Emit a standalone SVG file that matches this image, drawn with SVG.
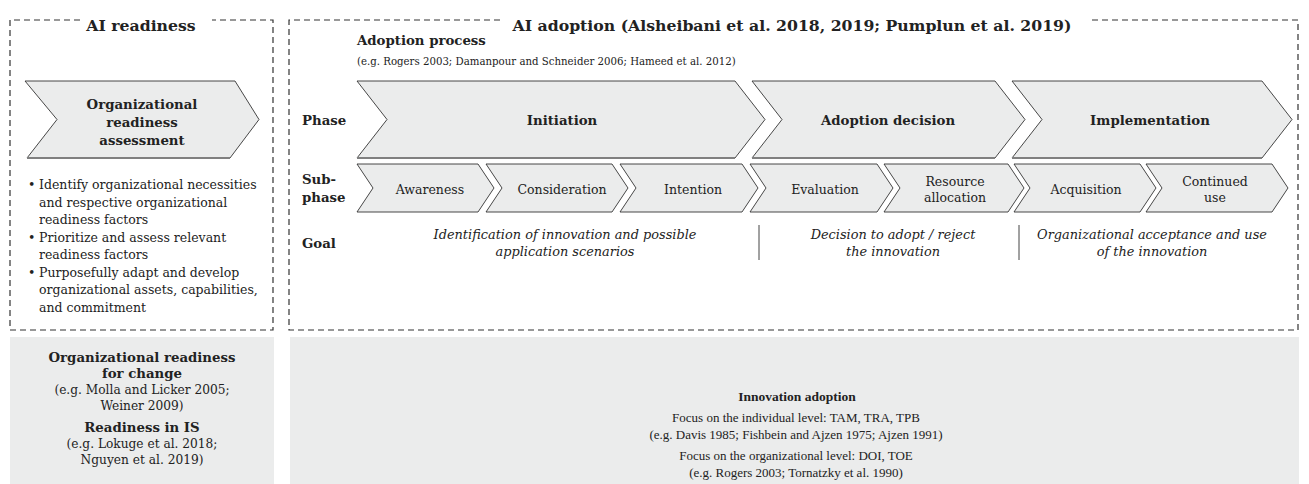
<svg xmlns="http://www.w3.org/2000/svg" width="1309" height="484" viewBox="0 0 1309 484">
<style>
  text { font-family: "DejaVu Serif", "Liberation Serif", serif; fill: #222; }
  .title { font-size: 15.7px; font-weight: bold; }
  .b13 { font-size: 13.3px; font-weight: bold; }
  .r13 { font-size: 12.5px; }
  .r12 { font-size: 12.2px; }
  .i13 { font-size: 12.9px; font-style: italic; }
  .small { font-size: 10.2px; }
  .bl { font-family: "Liberation Serif", serif; font-size: 13px; }
  .blb { font-family: "Liberation Serif", serif; font-size: 13.5px; font-weight: bold; }
  .c { text-anchor: middle; }
  .dash { fill: none; stroke: #333; stroke-width: 1.2; stroke-dasharray: 6 4; }
  .chev { fill: #ebecec; stroke: #333; stroke-width: 0.9; stroke-linejoin: miter; }
  .shadow { fill: none; stroke: #808080; stroke-width: 2; }
  .grey { fill: #ebecec; }
  .div { stroke: #444; stroke-width: 1; }
</style>

<!-- frames -->
<g id="frames">
  <path class="dash" d="M80,20 H10 V330 H273 V20 H212"/>
  <path class="dash" d="M500,20 H289 V330 H1298 V20 H1092"/>
  <rect class="grey" x="10" y="337" width="264" height="147"/>
  <rect class="grey" x="290" y="337" width="1009" height="147"/>
</g>

<g id="titles">
  <text class="title c" x="141" y="31">AI readiness</text>
  <text class="title c" x="792" y="31">AI adoption (Alsheibani et al. 2018, 2019; Pumplun et al. 2019)</text>
</g>

<!-- AI readiness node -->
<g id="node-readiness-assessment">
  <polygon class="chev" points="25,81 235,81 259,119.5 230,158 27,158 57,119.5"/>
  <line class="shadow" x1="27" y1="158" x2="230" y2="158"/>
  <text class="b13 c" x="142" y="109">Organizational</text>
  <text class="b13 c" x="142" y="127">readiness</text>
  <text class="b13 c" x="142" y="145">assessment</text>
</g>

<g id="readiness-bullets">
  <text class="r13" x="28" y="189">•</text>
  <text class="r13" x="39" y="189">Identify organizational necessities</text>
  <text class="r13" x="39" y="206.5">and respective organizational</text>
  <text class="r13" x="39" y="224">readiness factors</text>
  <text class="r13" x="28" y="241.5">•</text>
  <text class="r13" x="39" y="241.5">Prioritize and assess relevant</text>
  <text class="r13" x="39" y="259">readiness factors</text>
  <text class="r13" x="28" y="276.5">•</text>
  <text class="r13" x="39" y="276.5">Purposefully adapt and develop</text>
  <text class="r13" x="39" y="294">organizational assets, capabilities,</text>
  <text class="r13" x="39" y="311.5">and commitment</text>
</g>

<!-- Adoption process header -->
<g id="adoption-process">
  <text class="b13" x="357" y="45">Adoption process</text>
  <text class="small" x="357" y="65">(e.g. Rogers 2003; Damanpour and Schneider 2006; Hameed et al. 2012)</text>
</g>

<g id="row-labels">
  <text class="b13" x="302" y="125">Phase</text>
  <text class="b13" x="302" y="184">Sub-</text>
  <text class="b13" x="302" y="202">phase</text>
  <text class="b13" x="302" y="248">Goal</text>
</g>

<!-- Phases -->
<g id="phase-initiation">
  <polygon class="chev" points="357,81 735,81 765,119.5 735,158 357,158 387,119.5"/>
  <line class="shadow" x1="357" y1="158" x2="735" y2="158"/>
  <text class="b13 c" x="562" y="125">Initiation</text>
</g>
<g id="phase-adoption-decision">
  <polygon class="chev" points="752,81 995,81 1025,119.5 995,158 752,158 782,119.5"/>
  <line class="shadow" x1="752" y1="158" x2="995" y2="158"/>
  <text class="b13 c" x="888" y="125">Adoption decision</text>
</g>
<g id="phase-implementation">
  <polygon class="chev" points="1012,81 1262,81 1292,119.5 1262,158 1012,158 1042,119.5"/>
  <line class="shadow" x1="1012" y1="158" x2="1262" y2="158"/>
  <text class="b13 c" x="1150" y="125">Implementation</text>
</g>

<!-- Sub-phases -->
<g id="sub-awareness">
  <polygon class="chev" points="357,164 478,164 494,188 478,212 357,212 373,188"/>
  <text class="r13 c" x="430" y="194">Awareness</text>
</g>
<g id="sub-consideration">
  <polygon class="chev" points="486,164 612,164 628,188 612,212 486,212 502,188"/>
  <text class="r13 c" x="562" y="194">Consideration</text>
</g>
<g id="sub-intention">
  <polygon class="chev" points="620,164 742,164 758,188 742,212 620,212 636,188"/>
  <text class="r13 c" x="693" y="194">Intention</text>
</g>
<g id="sub-evaluation">
  <polygon class="chev" points="750,164 877,164 893,188 877,212 750,212 766,188"/>
  <text class="r13 c" x="825" y="194">Evaluation</text>
</g>
<g id="sub-resource-allocation">
  <polygon class="chev" points="884,164 1008,164 1024,188 1008,212 884,212 900,188"/>
  <text class="r13 c" x="955" y="186">Resource</text>
  <text class="r13 c" x="955" y="202">allocation</text>
</g>
<g id="sub-acquisition">
  <polygon class="chev" points="1014,164 1140,164 1156,188 1140,212 1014,212 1030,188"/>
  <text class="r13 c" x="1086" y="194">Acquisition</text>
</g>
<g id="sub-continued-use">
  <polygon class="chev" points="1146,164 1272,164 1288,188 1272,212 1146,212 1162,188"/>
  <text class="r13 c" x="1215" y="186">Continued</text>
  <text class="r13 c" x="1215" y="202">use</text>
</g>

<!-- Goals -->
<g id="goals">
  <text class="i13 c" x="565" y="239">Identification of innovation and possible</text>
  <text class="i13 c" x="565" y="256">application scenarios</text>
  <line class="div" x1="759" y1="225" x2="759" y2="260"/>
  <text class="i13 c" x="893" y="239">Decision to adopt / reject</text>
  <text class="i13 c" x="893" y="256">the innovation</text>
  <line class="div" x1="1019" y1="225" x2="1019" y2="260"/>
  <text class="i13 c" x="1152" y="239">Organizational acceptance and use</text>
  <text class="i13 c" x="1152" y="256">of the innovation</text>
</g>

<!-- Bottom left -->
<g id="readiness-literature">
  <text class="b13 c" x="142" y="362">Organizational readiness</text>
  <text class="b13 c" x="142" y="378">for change</text>
  <text class="r12 c" x="142" y="394">(e.g. Molla and Licker 2005;</text>
  <text class="r12 c" x="142" y="410">Weiner 2009)</text>
  <text class="b13 c" x="142" y="432">Readiness in IS</text>
  <text class="r12 c" x="142" y="448">(e.g. Lokuge et al. 2018;</text>
  <text class="r12 c" x="142" y="464">Nguyen et al. 2019)</text>
</g>

<!-- Bottom right -->
<g id="adoption-literature">
  <text class="blb c" x="797" y="401">Innovation adoption</text>
  <text class="bl c" x="796" y="422">Focus on the individual level: TAM, TRA, TPB</text>
  <text class="bl c" x="796" y="439">(e.g. Davis 1985; Fishbein and Ajzen 1975; Ajzen 1991)</text>
  <text class="bl c" x="796" y="460">Focus on the organizational level:  DOI, TOE</text>
  <text class="bl c" x="796" y="477">(e.g. Rogers 2003; Tornatzky et al. 1990)</text>
</g>
</svg>
